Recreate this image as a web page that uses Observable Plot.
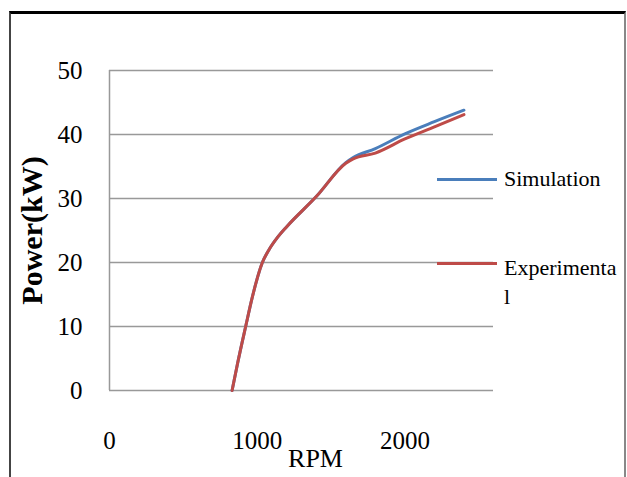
<!DOCTYPE html>
<html><head><meta charset="utf-8">
<script src="https://cdn.jsdelivr.net/npm/d3@7"></script>
<script src="https://cdn.jsdelivr.net/npm/@observablehq/plot@0.6"></script>
<style>
body{margin:0;background:#fff;}
#wrap{position:relative;width:627px;height:477px;overflow:hidden;font-family:"Liberation Serif","Times New Roman",serif;background:#fff;}
#chart{position:absolute;left:0;top:0;}
#frame{position:absolute;left:9px;top:11px;width:613px;height:480px;border-top:3px solid #000;border-left:2px solid #444;border-right:2px solid #888;pointer-events:none;}
.sw{position:absolute;left:437px;width:60px;height:3px;}
.lt{position:absolute;left:504px;font-size:22px;line-height:29px;color:#000;white-space:nowrap;}
</style></head><body>
<div id="wrap"><div id="chart"></div><div id="legend"></div><div id="frame"></div></div>
<script>
// Data
const rpm = [830, 866, 922, 967, 1035, 1080, 1140, 1200, 1400, 1600, 1650, 1800, 2000, 2200, 2400];
const simulation = [0, 4.1, 10, 14.6, 20, 22.0, 24.0, 25.6, 30.3, 35.6, 36.4, 37.8, 40.1, 42.0, 43.8];
const experimental = [0, 4.1, 10, 14.6, 20, 22.0, 24.0, 25.6, 30.3, 35.5, 36.2, 37.1, 39.3, 41.2, 43.1];
const xTicks = [0, 1000, 2000];
const yTicks = [0, 10, 20, 30, 40, 50];
const seriesNames = ["Simulation", "Experimental"];
const seriesColors = ["#4a7ebb", "#be4b48"];
const xLabel = "RPM";
const yLabel = "Power(kW)";

const simData = rpm.map((r, i) => ({rpm: r, p: simulation[i]}));
const expData = rpm.map((r, i) => ({rpm: r, p: experimental[i]}));

const chart = Plot.plot({
  width: 627, height: 477,
  marginLeft: 109, marginRight: 134, marginTop: 70, marginBottom: 87,
  x: {domain: [0, 2600], ticks: xTicks, tickFormat: d => String(d), tickSize: 0, tickPadding: 41, label: null},
  y: {domain: [0, 50], ticks: yTicks, tickFormat: d => String(d), tickSize: 0, tickPadding: 27, label: null},
  style: {fontFamily: '"Liberation Serif","Times New Roman",serif', fontSize: "25px", color: "#000", background: "none"},
  marks: [
    Plot.ruleY(yTicks, {stroke: "#999", strokeWidth: 1.5}),
    Plot.ruleX([0], {stroke: "#999", strokeWidth: 1.5}),
    Plot.line(simData, {x: "rpm", y: "p", stroke: seriesColors[0], strokeWidth: 3, curve: "monotone-x"}),
    Plot.line(expData, {x: "rpm", y: "p", stroke: seriesColors[1], strokeWidth: 3, curve: "monotone-x"}),
    Plot.text([xLabel], {text: d => d, frameAnchor: "bottom", dx: 14, dy: 76, fontSize: 26}),
    Plot.text([yLabel], {text: d => d, frameAnchor: "left", textAnchor: "middle", rotate: -90, dx: -77, fontSize: 30, fontWeight: "bold"})
  ]
});
document.getElementById("chart").appendChild(chart);

// Legend (HTML, placed at the right of the plot as in the reference)
const legend = document.getElementById("legend");
const legTops = [178, 262];
seriesNames.forEach((name, i) => {
  const sw = document.createElement("div");
  sw.className = "sw";
  sw.style.top = legTops[i] + "px";
  sw.style.background = seriesColors[i];
  legend.appendChild(sw);
  const t = document.createElement("div");
  t.className = "lt";
  t.style.top = (legTops[i] - 14 + (i === 1 ? 5 : 0)) + "px";
  t.innerHTML = i === 1 ? "Experimenta<br>l" : name;
  legend.appendChild(t);
});
</script>
</body></html>
